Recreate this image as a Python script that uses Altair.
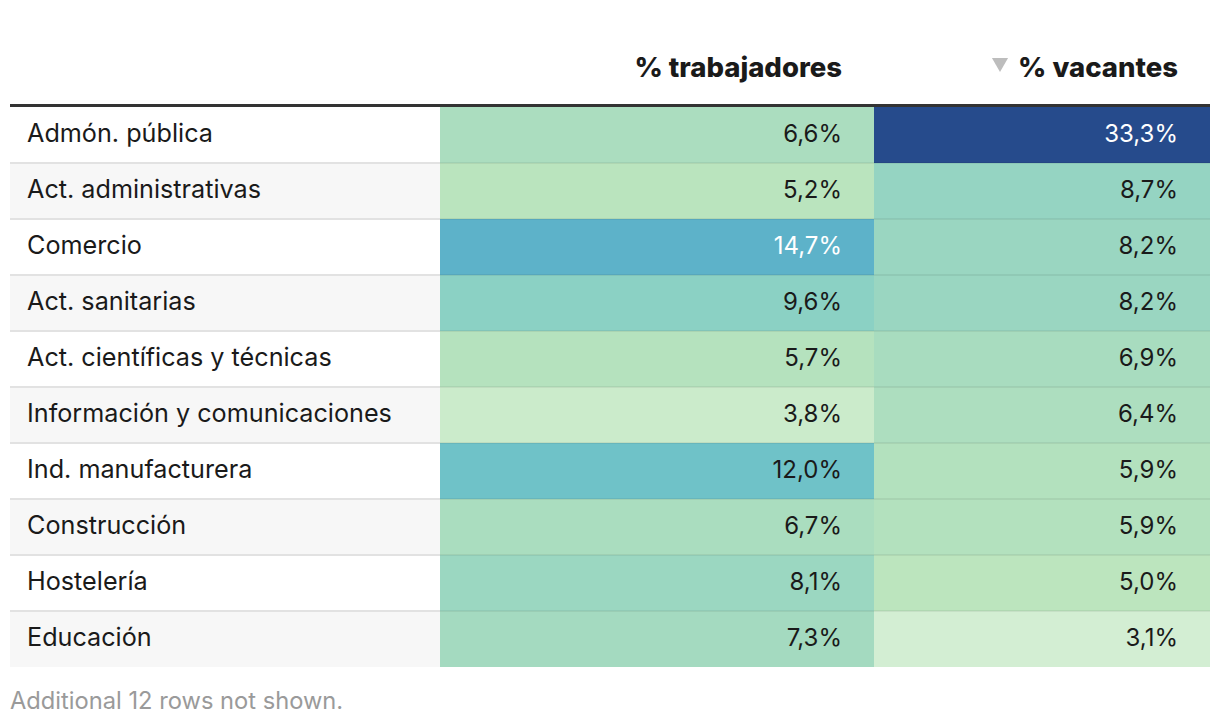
import altair as alt
import pandas as pd

categorias = ["Admón. pública", "Act. administrativas", "Comercio", "Act. sanitarias",
              "Act. científicas y técnicas", "Información y comunicaciones",
              "Ind. manufacturera", "Construcción", "Hostelería", "Educación"]
trabajadores = [6.6, 5.2, 14.7, 9.6, 5.7, 3.8, 12.0, 6.7, 8.1, 7.3]
vacantes = [33.3, 8.7, 8.2, 8.2, 6.9, 6.4, 5.9, 5.9, 5.0, 3.1]
encabezados = ["% trabajadores", "% vacantes"]
nota = "Additional 12 rows not shown."

# colour gradient stops (value -> colour)
stops = [3.1, 5.0, 7.0, 9.6, 12.0, 14.7, 33.3]
stop_colors = ["#d3eed3", "#bce5be", "#a7dbbf", "#8bd1c4", "#6fc2c8", "#5db2c9", "#264b8c"]

def fmt(v):
    return f"{v:.1f}".replace(".", ",") + "%"

df = pd.DataFrame({
    "cat": categorias,
    "idx": list(range(len(categorias))),
    "par": [i % 2 for i in range(len(categorias))],
    "trabajadores": trabajadores,
    "vacantes": vacantes,
    "trabajadores_lbl": [fmt(v) for v in trabajadores],
    "vacantes_lbl": [fmt(v) for v in vacantes],
})

FONT = "Inter"
HFONT = "Inter"
FS = 25.2
NFS = 24
W_LABEL, W_TRAB, W_VAC = 430, 434, 336
ROW = 56
H_BODY = ROW * len(categorias)
H_HEAD = 99

Y = alt.Y("cat:N", sort=categorias, axis=None,
          scale=alt.Scale(paddingInner=0, paddingOuter=0))
Y0 = alt.Y("cat:N", sort=categorias, axis=None, bandPosition=0,
           scale=alt.Scale(paddingInner=0, paddingOuter=0))
color_scale = alt.Scale(domain=stops, range=stop_colors, interpolate="rgb")


def separators(W, color, opacity):
    return alt.Chart(df).mark_rule(color=color, strokeWidth=2, clip=True).encode(
        y=Y0, x=alt.value(0), x2=alt.value(W),
        strokeOpacity=alt.condition(alt.datum.idx == 0, alt.value(0), alt.value(opacity)),
    )


# label column
lab_bg = alt.Chart(df).mark_rect().encode(
    y=Y, x=alt.value(0), x2=alt.value(W_LABEL),
    color=alt.Color("par:N", scale=alt.Scale(domain=[0, 1], range=["#ffffff", "#f7f7f7"]), legend=None),
)
lab_txt = alt.Chart(df).mark_text(align="left", baseline="middle", font=FONT,
                                  fontSize=FS, color="#1a1a1a", dy=-1).encode(
    y=Y, x=alt.value(17), text="cat:N")
foot = alt.Chart(pd.DataFrame({"t": [nota]})).mark_text(
    align="left", baseline="alphabetic", font=FONT, fontSize=23.7, color="#9a9a9a").encode(
    x=alt.value(0), y=alt.value(H_BODY + 42), text="t:N")
body_label = alt.layer(lab_bg, separators(W_LABEL, "#e2e2e2", 1), lab_txt, foot).properties(
    width=W_LABEL, height=H_BODY)


def value_panel(col, W):
    rect = alt.Chart(df).mark_rect().encode(
        y=Y, x=alt.value(0), x2=alt.value(W),
        color=alt.Color(f"{col}:Q", scale=color_scale, legend=None))
    txt = alt.Chart(df).mark_text(align="right", baseline="middle", font=FONT, fontSize=NFS).encode(
        y=Y, x=alt.value(W - 32), text=f"{col}_lbl:N",
        color=alt.condition(alt.datum[col] > 13, alt.value("#ffffff"), alt.value("#1a1a1a")))
    return alt.layer(rect, separators(W, "#000000", 0.06), txt).properties(width=W, height=H_BODY)


body = alt.hconcat(body_label, value_panel("trabajadores", W_TRAB),
                   value_panel("vacantes", W_VAC), spacing=0)

hdf = pd.DataFrame({"h": encabezados})


def head_rule(W):
    return alt.Chart(hdf).mark_rule(color="#333333", strokeWidth=3, clip=True).encode(
        x=alt.value(0), x2=alt.value(W), y=alt.value(H_HEAD - 1.5))


def head_text(i, W):
    return alt.Chart(hdf).transform_filter(alt.datum.h == encabezados[i]).mark_text(
        align="right", baseline="alphabetic", font=HFONT, fontWeight=800, fontSize=27.5,
        color="#1a1a1a").encode(x=alt.value(W - 32), y=alt.value(69), text="h:N")


tri = alt.Chart(hdf).transform_filter(alt.datum.h == encabezados[1]).mark_point(
    shape="triangle-down", filled=True, size=260, color="#bdbdbd", opacity=1).encode(
    x=alt.value(126), y=alt.value(57))

head = alt.hconcat(
    alt.layer(head_rule(W_LABEL)).properties(width=W_LABEL, height=H_HEAD),
    alt.layer(head_rule(W_TRAB), head_text(0, W_TRAB)).properties(width=W_TRAB, height=H_HEAD),
    alt.layer(head_rule(W_VAC), head_text(1, W_VAC), tri).properties(width=W_VAC, height=H_HEAD),
    spacing=0,
)

chart = alt.vconcat(head, body, spacing=0).properties(
    padding={"left": 2, "top": 0, "right": 0, "bottom": 4},
    background="#ffffff",
).configure_view(strokeWidth=0).configure_concat(spacing=0)

chart.save("out.html", embed_options={"renderer": "svg", "actions": False})
